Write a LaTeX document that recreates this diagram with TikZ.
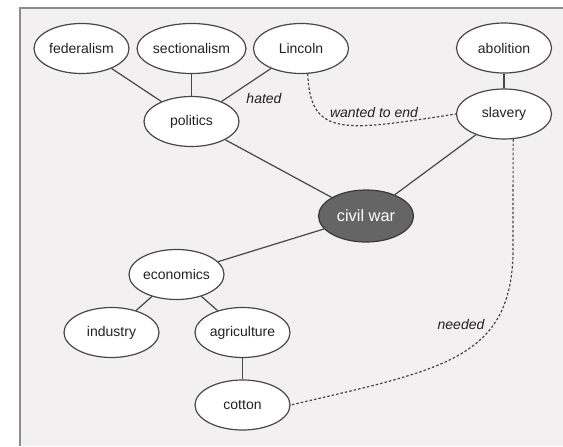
\documentclass[tikz,border=0pt]{standalone}
\usepackage{fontspec}
\setmainfont{Liberation Sans}
\usetikzlibrary{shapes.geometric}

\definecolor{paper}{HTML}{F2F0F1}
\definecolor{frameline}{HTML}{8C8C8C}
\definecolor{inkline}{HTML}{474747}
\definecolor{hubfill}{HTML}{656565}
\definecolor{textink}{HTML}{222222}

\begin{document}
\begin{tikzpicture}[x=0.75pt, y=-0.75pt,
  concept/.style={ellipse, draw=inkline, fill=white, line width=0.9pt, inner sep=0pt,
    minimum width=71.25pt, minimum height=37.5pt, text=textink,
    font=\fontsize{10.5}{12}\selectfont},
  hub/.style={concept, fill=hubfill, draw=inkline!80!black, text=white,
    minimum height=39pt, font=\fontsize{12.3}{14}\selectfont},
  link/.style={draw=inkline, line width=0.9pt},
  dep/.style={draw=inkline, line width=0.9pt, dash pattern=on 1.9pt off 1.5pt},
  lbl/.style={text=textink, inner sep=0pt, font=\fontsize{10.5}{12}\selectfont\itshape}]

  \useasboundingbox (0,0) rectangle (563,446);
  \fill[paper] (20,8) rectangle (563,446);
  \draw[frameline, line width=0.8pt] (20,446) -- (20,8) -- (563,8);


  \node[concept] (federalism) at (81.5,48.5) {federalism};
  \node[concept] (sectionalism) at (191.5,48.5) {sectionalism};
  \node[concept] (lincoln) at (301,48.5) {Lincoln};
  \node[concept] (abolition) at (504,48) {abolition};

  \node[concept] (politics) at (191.5,121.5) {politics};
  \node[concept] (slavery) at (504,114) {slavery};

  \node[hub] (civilwar) at (366,216) {civil war};

  \node[concept] (economics) at (176.5,274.5) {economics};
  \node[concept] (industry) at (111.5,332.5) {industry};
  \node[concept] (agriculture) at (242.5,332.5) {agriculture};
  \node[concept] (cotton) at (242.5,405) {cotton};


  \draw[link] (federalism) -- (politics);
  \draw[link] (sectionalism) -- (politics);
  \draw[link] (lincoln) -- (politics);
  \draw[link] (abolition) -- (slavery);
  \draw[link] (politics) -- (civilwar);
  \draw[link] (slavery) -- (civilwar);
  \draw[link] (civilwar) -- (economics);
  \draw[link] (economics) -- (industry);
  \draw[link] (economics) -- (agriculture);
  \draw[link] (agriculture) -- (cotton);

  % dashed relations
  \draw[dep] (lincoln.-75) .. controls (310,138) and (345,131) .. (slavery.west);
  \draw[dep] (slavery.-70) -- (513,255) .. controls (510,360) and (440,370) .. (cotton.east);

  \node[lbl] (hated) at (264,98) {hated};
  \node[lbl] (wanted) at (374,112) {wanted to end};
  \node[lbl] (needed) at (461,324) {needed};

\end{tikzpicture}
\end{document}
